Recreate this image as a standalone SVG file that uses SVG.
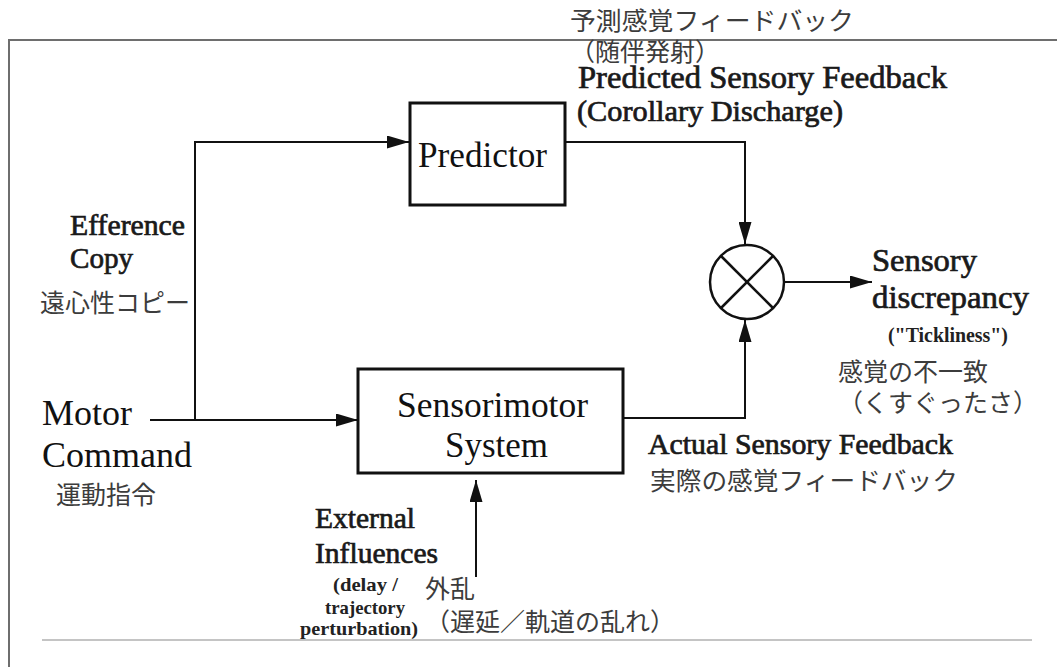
<svg xmlns="http://www.w3.org/2000/svg" width="1057" height="667" viewBox="0 0 1057 667">
<style>
.big{font-family:"Liberation Serif","Times New Roman",serif;font-size:35px;fill:#111}
.mid{font-family:"Liberation Serif","Times New Roman",serif;fill:#1a1a1a;stroke:#1a1a1a;stroke-width:0.7}
.sm{font-family:"Liberation Serif","Times New Roman",serif;font-weight:bold;fill:#222}
.jp{font-family:"Noto Sans CJK JP","Noto Sans CJK SC",sans-serif;font-size:25px;fill:#3c3c3c}
.box{fill:#fff;stroke:#111;stroke-width:3}
.conn{fill:none;stroke:#111;stroke-width:2}
.frame{fill:none;stroke:#6e6e6e;stroke-width:2}
</style>
<defs>
<marker id="ah" markerUnits="userSpaceOnUse" markerWidth="22" markerHeight="13" refX="22" refY="6.5" orient="auto">
<path d="M0,0 L22,6.5 L0,13 z" fill="#111"/>
</marker>
</defs>
<rect width="1057" height="667" fill="#fff"/>
<g id="frame">
<path class="frame" d="M9,667 L9,40 L1057,40"/>
<line x1="42" y1="640" x2="1032" y2="640" stroke="#c4c4c4" stroke-width="2"/>
</g>
<g id="connectors">
<line class="conn" x1="150" y1="420" x2="358" y2="420" marker-end="url(#ah)"/>
<polyline class="conn" points="195,420 195,142 409,142" marker-end="url(#ah)"/>
<polyline class="conn" points="565,142 745,142 745,244" marker-end="url(#ah)"/>
<polyline class="conn" points="623,418 745,418 745,320" marker-end="url(#ah)"/>
<line class="conn" x1="784" y1="282" x2="872" y2="282" marker-end="url(#ah)"/>
<line class="conn" x1="476" y1="577" x2="476" y2="480" marker-end="url(#ah)"/>
</g>
<g id="predictor">
<rect class="box" x="410" y="103" width="155" height="102"/>
<text class="big" x="418" y="167" textLength="129" lengthAdjust="spacingAndGlyphs">Predictor</text>
</g>
<g id="sensorimotor">
<rect class="box" x="358" y="369" width="265" height="104"/>
<text class="big" x="397" y="417" textLength="191" lengthAdjust="spacingAndGlyphs">Sensorimotor</text>
<text class="big" x="445" y="457" textLength="103" lengthAdjust="spacingAndGlyphs">System</text>
</g>
<g id="comparator">
<circle cx="747" cy="282" r="37" fill="#fff" stroke="#111" stroke-width="2.5"/>
<line x1="721" y1="256" x2="773" y2="308" stroke="#111" stroke-width="2.5"/>
<line x1="773" y1="256" x2="721" y2="308" stroke="#111" stroke-width="2.5"/>
</g>
<g id="label-predicted">
<text class="jp" x="570" y="30" textLength="284" lengthAdjust="spacingAndGlyphs">予測感覚フィードバック</text>
<text class="jp" x="570" y="61">（随伴発射）</text>
<text class="mid" x="578" y="88" font-size="31" textLength="369" lengthAdjust="spacingAndGlyphs">Predicted Sensory Feedback</text>
<text class="mid" x="577" y="121" font-size="29" textLength="266" lengthAdjust="spacingAndGlyphs">(Corollary Discharge)</text>
</g>
<g id="label-efference">
<text class="mid" x="70" y="235" font-size="29" textLength="115" lengthAdjust="spacingAndGlyphs">Efference</text>
<text class="mid" x="70" y="268" font-size="29" textLength="63" lengthAdjust="spacingAndGlyphs">Copy</text>
<text class="jp" x="40" y="312" font-size="26">遠心性コピー</text>
</g>
<g id="label-motor">
<text class="big" x="42" y="425" textLength="90" lengthAdjust="spacingAndGlyphs">Motor</text>
<text class="big" x="42" y="467" textLength="150" lengthAdjust="spacingAndGlyphs">Command</text>
<text class="jp" x="56" y="504" font-size="26">運動指令</text>
</g>
<g id="label-discrepancy">
<text class="mid" x="872" y="271" font-size="32" textLength="105" lengthAdjust="spacingAndGlyphs">Sensory</text>
<text class="mid" x="872" y="308" font-size="32" textLength="157" lengthAdjust="spacingAndGlyphs">discrepancy</text>
<text class="sm" x="888" y="342" font-size="20" textLength="120" lengthAdjust="spacingAndGlyphs">("Tickliness")</text>
<text class="jp" x="838" y="381" font-size="26">感覚の不一致</text>
<text class="jp" x="838" y="412" font-size="26">（くすぐったさ）</text>
</g>
<g id="label-actual">
<text class="mid" x="648" y="454" font-size="29" textLength="305" lengthAdjust="spacingAndGlyphs">Actual Sensory Feedback</text>
<text class="jp" x="650" y="490" textLength="308" lengthAdjust="spacingAndGlyphs">実際の感覚フィードバック</text>
</g>
<g id="label-external">
<text class="mid" x="315" y="528" font-size="29" textLength="100" lengthAdjust="spacingAndGlyphs">External</text>
<text class="mid" x="315" y="563" font-size="29" textLength="123" lengthAdjust="spacingAndGlyphs">Influences</text>
<text class="sm" x="333" y="591" font-size="19" textLength="65" lengthAdjust="spacingAndGlyphs">(delay /</text>
<text class="sm" x="325" y="614" font-size="19" textLength="80" lengthAdjust="spacingAndGlyphs">trajectory</text>
<text class="sm" x="300" y="635" font-size="19" textLength="118" lengthAdjust="spacingAndGlyphs">perturbation)</text>
<text class="jp" x="425" y="598">外乱</text>
<text class="jp" x="425" y="631">（遅延／軌道の乱れ）</text>
</g>
</svg>
